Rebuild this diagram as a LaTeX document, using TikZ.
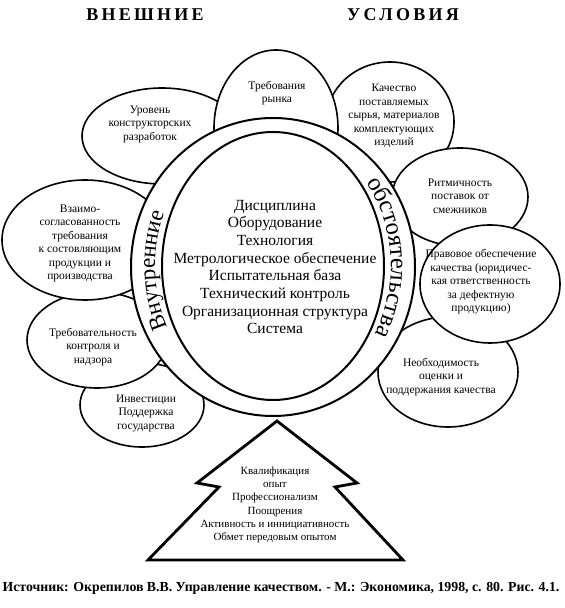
\documentclass[tikz,border=0pt]{standalone}
\usepackage{fontspec}
\setmainfont{Liberation Serif}
\usetikzlibrary{calc, decorations.text}
\newcommand{\petalfont}{\fontsize{11.5}{13.5}\selectfont}
\newcommand{\corefont}{\fontsize{15.5}{17.7}\selectfont}
\newcommand{\treefont}{\fontsize{11}{13.3}\selectfont}
\newcommand{\ringfont}{\fontsize{23}{23}\selectfont}
\newcommand{\ringfontR}{\fontsize{24.5}{24.5}\selectfont}

\begin{document}
\begin{tikzpicture}[x=1pt, y=1pt,
    petal/.style={draw=black, fill=white, line width=1.6pt},
    ring/.style={draw=black, fill=white, line width=2pt},
    ptext/.style={align=center, inner sep=0pt, font=\petalfont},
    ringtext/.style={decorate, decoration={text along path, text align=center,
        text format delimiters={|}{|}}}
  ]
  \useasboundingbox (0,0) rectangle (565,608);

  % --- headings ---
  \node[font=\fontsize{18}{18}\selectfont\bfseries\addfontfeature{LetterSpace=18}] (vneshnie) at (145,593) {ВНЕШНИЕ};
  \node[font=\fontsize{18}{18}\selectfont\bfseries\addfontfeature{LetterSpace=18}] (usloviya) at (403,593) {УСЛОВИЯ};

  % --- outer petals (back to front) ---
  \draw[petal] (142,203) ellipse (62 and 42);
  \draw[petal] (97,268) ellipse (70 and 48);
  \draw[petal] (85,368) ellipse (83 and 60);
  \draw[petal] (162,472) ellipse (80 and 48);
  \draw[petal] (390,486) ellipse (64 and 60);
  \draw[petal] (276,480) ellipse (62 and 78);
  \draw[petal] (448,236) ellipse (70 and 55);
  \draw[petal] (460,411) ellipse (68 and 49);
  \draw[petal] (490,324) ellipse (70 and 59);

  \node[ptext] (invest) at (146,195) {Инвестиции\\Поддержка\\государства};
  \node[ptext] (kontrol) at (93,261) {Требовательность\\контроля и\\надзора};
  \node[ptext] (vzaimo) at (80,364.5) {Взаимо-\\согласованность\\требования\\к состовляющим\\продукции и\\производства};
  \node[ptext] (konstr) at (150,484) {Уровень\\конструкторских\\разработок};
  \node[ptext] (rynok) at (277,515) {Требования\\рынка};
  \node[ptext] (syrje) at (394,492) {Качество\\поставляемых\\сырья, материалов\\комплектующих\\изделий};
  \node[ptext] (ritm) at (460,412) {Ритмичность\\поставок от\\смежников};
  \node[ptext] (pravo) at (481,326) {Правовое обеспечение\\качества (юридичес-\\кая ответственность\\за дефектную\\продукцию)};
  \node[ptext] (ocenka) at (441,231) {Необходимость\\оценки и\\поддержания качества};

  % --- core: two circles with the ring between ---
  \coordinate (ringc) at (273,342);
  \draw[ring] (273,341) ellipse (142 and 149);
  \draw[ring] (ringc) ellipse (111 and 134);
  \path[ringtext, decoration={text={|\ringfont|Внутренние}}]
    ($(ringc)+(218:118 and 137)$) arc[start angle=218, end angle=146, x radius=118, y radius=137];
  \path[ringtext, decoration={text={|\ringfontR|обстоятельства}}]
    ($(ringc)+(42:118 and 137)$) arc[start angle=42, end angle=-34, x radius=118, y radius=137];

  \node[align=center, inner sep=0pt, font=\corefont] (core) at (275,341)
    {Дисциплина\\Оборудование\\Технология\\Метрологическое обеспечение\\Испытательная база\\Технический контроль\\Организационная структура\\Система};

  % --- tree of personnel factors ---
  \draw[line width=2.8pt, line join=miter] (277,187) -- (197,125) -- (219,121) -- (148,48)
    -- (403,48) -- (335,121) -- (357,125) -- cycle;
  \node[align=center, inner sep=0pt, font=\treefont] (kadry) at (275,103)
    {Квалификация\\опыт\\Профессионализм\\Поощрения\\Активность и иннициативность\\Обмет передовым опытом};

  % --- source line ---
  \node[font=\fontsize{13.8}{13.8}\selectfont\bfseries] (istochnik) at (281,20)
    {Источник: Окрепилов В.В. Управление качеством. - М.: Экономика, 1998, с. 80. Рис. 4.1.};
\end{tikzpicture}
\end{document}
